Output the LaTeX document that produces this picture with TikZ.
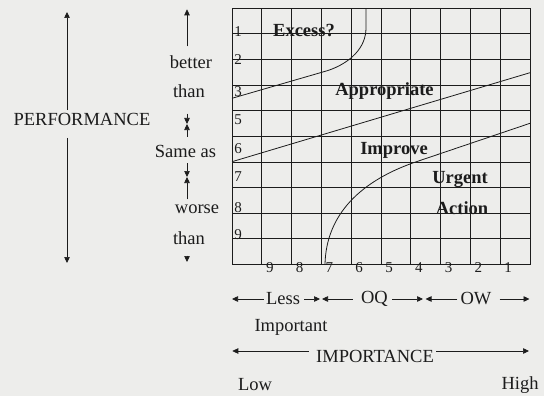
\documentclass[tikz,border=0pt]{standalone}
\usepackage{fontspec}
\setmainfont{Liberation Serif}
\usetikzlibrary{arrows.meta,positioning,calc}
\definecolor{papier}{HTML}{EDEDEB}
\definecolor{encre}{HTML}{1C1C1C}
\tikzset{
  lbl/.style={inner sep=2pt, font=\fontsize{18.5}{20}\selectfont, text=encre},
  zone/.style={inner sep=2pt, font=\fontsize{18.5}{20}\selectfont\bfseries, text=encre},
  num/.style={inner sep=0pt, font=\fontsize{15}{16}\selectfont, text=encre},
  arr/.style={-{Triangle[length=6pt,width=5.5pt]}, line width=0.7pt, draw=encre},
  grille/.style={line width=0.9pt, draw=encre},
  courbe/.style={line width=0.8pt, draw=encre},
}

\begin{document}
\begin{tikzpicture}[x=1pt, y=-1pt]
        \fill[papier] (0,0) rectangle (544,396);
        \useasboundingbox (0,0) rectangle (544,396);
        % grid 10 x 10
        \foreach \i in {0,...,10}{
          \draw[grille] (232+29.8*\i, 8.3) -- (232+29.8*\i, 264.5);
          \draw[grille] (232, 8.3+25.62*\i) -- (530, 8.3+25.62*\i);
        }
        \foreach \n/\y in {1/32, 2/60, 3/92, 5/120, 6/149, 7/177, 8/208, 9/235}
          \node[num] (r\n) at (238,\y) {\n};
        \foreach \n in {9,...,1}
          \node[num] (c\n) at ({240+29.8*(10-\n)}, 268) {\n};
        % boundaries
        \draw[courbe] (232,98.3) -- (328,70.5) .. controls (350,63) and (366,48) .. (366,28) -- (366,8.3);
        \draw[courbe] (232,161.7) -- (530,72.7);
        \draw[courbe] (325,264.5) .. controls (326,215) and (360,180) .. (420,160.5) -- (530,123.3);
        \node[zone] (excess) at (304,31) {Excess?};
        \node[zone] (appro) at (384.5,91) {Appropriate};
        \node[zone] (improve) at (394,150) {Improve};
        \node[zone] (urgent) at (460,179) {Urgent};
        \node[zone] (action) at (462,208) {Action};
        % performance axis
        \coordinate (ptop) at (67,12);
        \coordinate (pbot) at (67,263);
        \node[lbl, inner ysep=3pt] (perf) at (82,119.5) {PERFORMANCE};
        \draw[arr] (perf.north -| ptop) -- (ptop);
        \draw[arr, shorten <=9pt] (perf.south -| pbot) -- (pbot);
        % better / same / worse
        \coordinate (b0) at (187,9.3);
        \coordinate (b1) at (187,124);
        \coordinate (b2) at (187,177);
        \coordinate (b3) at (187,262);
        \node[lbl] (better) at (191,62) {better};
        \node[lbl] (than1) at (189,91) {than};
        \node[lbl] (same) at (185.5,151) {Same as};
        \node[lbl] (worse) at (197,209) {worse};
        \node[lbl] (than2) at (189,238) {than};
        \draw[arr, shorten <=7pt] (better.north -| b0) -- (b0);
        \draw[arr, shorten <=14pt] (than1.south -| b1) -- (b1);
        \draw[arr, shorten <=6pt] (same.north -| b1) -- (b1);
        \draw[arr, shorten <=4pt] (same.south -| b2) -- (b2);
        \draw[arr, shorten <=3pt] (worse.north -| b2) -- (b2);
        \draw[arr, shorten <=9pt] (than2.south -| b3) -- (b3);
        % importance bands
        \coordinate (l0) at (232,299);
        \coordinate (l1) at (320,299);
        \coordinate (q0) at (322,299);
        \coordinate (q1) at (423,299);
        \coordinate (w0) at (425.5,299);
        \coordinate (w1) at (529.5,299);
        \node[lbl] (less) at (283,299) {Less};
        \node[lbl] (oq) at (374.5,299) {OQ};
        \node[lbl] (ow) at (476,299) {OW};
        \draw[arr] (less.west) -- (l0);
        \draw[arr, shorten <=2pt] (less.east) -- (l1);
        \draw[arr, shorten <=6pt] (oq.west) -- (q0);
        \draw[arr, shorten <=2pt] (oq.east) -- (q1);
        \draw[arr, shorten <=1pt] (ow.west) -- (w0);
        \draw[arr, shorten <=6pt] (ow.east) -- (w1);
        \node[lbl] (important) at (291,327) {Important};
        % importance axis
        \coordinate (i0) at (232.3,351);
        \coordinate (i1) at (529,351);
        \node[lbl] (imp) at (375,356) {IMPORTANCE};
        \draw[arr, shorten <=5pt] (imp.west |- i0) -- (i0);
        \draw[arr] (imp.east |- i1) -- (i1);
        \node[lbl] (low) at (255,385) {Low};
        \node[lbl] (high) at (520,385) {High};
      \end{tikzpicture}
\end{document}
